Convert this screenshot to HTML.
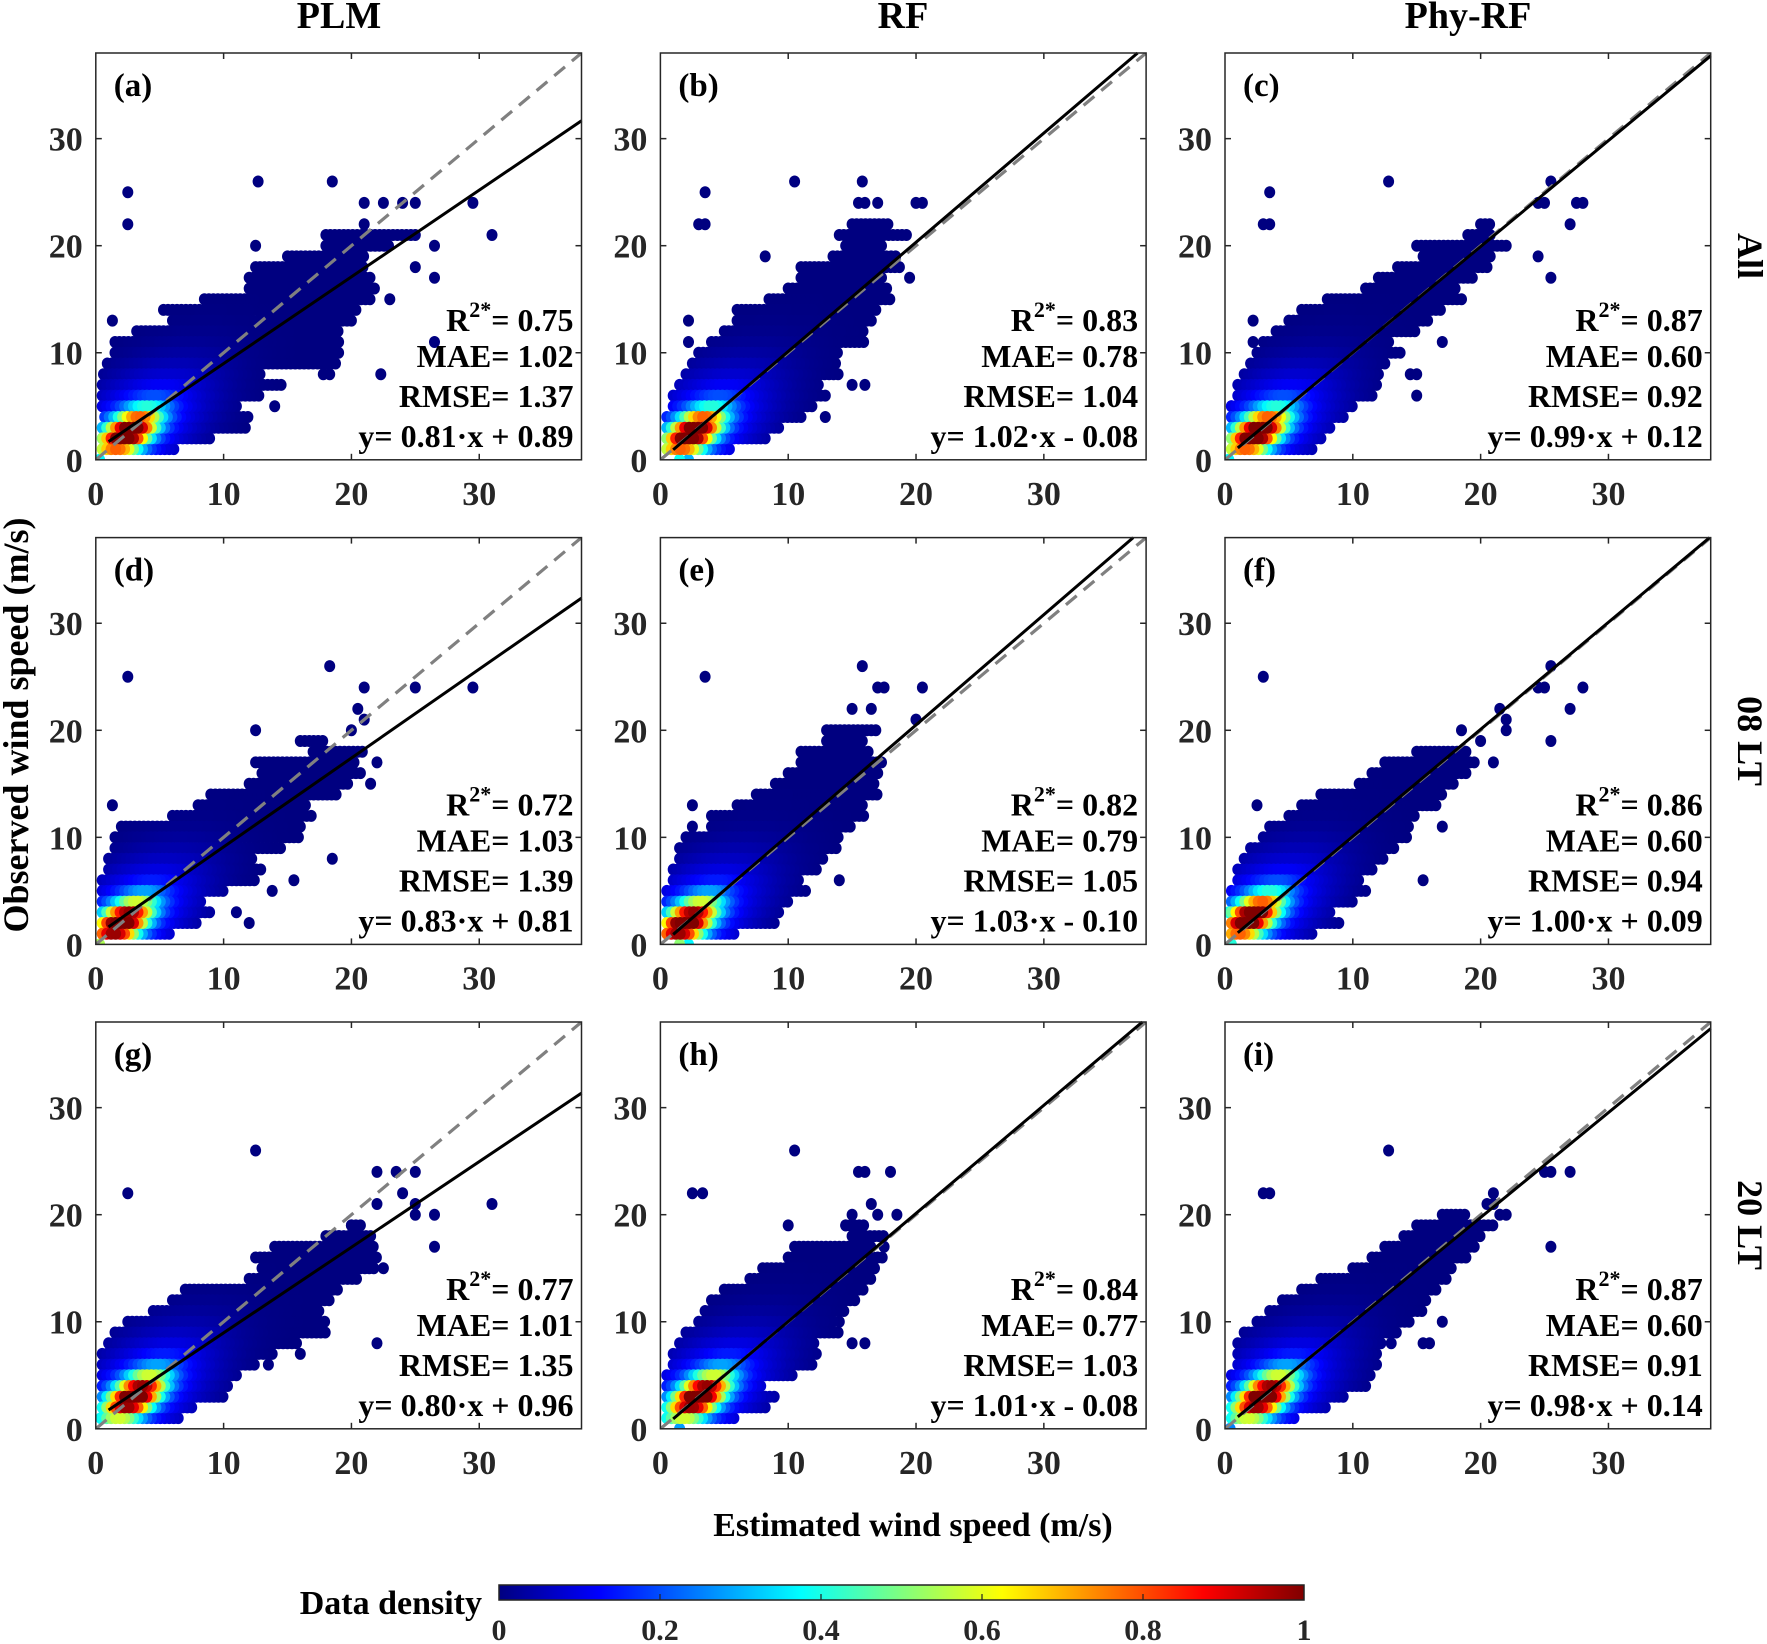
<!DOCTYPE html>
<html><head><meta charset="utf-8"><title>Wind speed density scatter</title>
<style>
html,body{margin:0;padding:0;background:#fff;}
svg{display:block;font-family:"Liberation Serif","Times New Roman",serif;font-weight:bold;}
</style></head>
<body>
<svg id="chart" width="1767" height="1644" viewBox="0 0 1767 1644" xmlns="http://www.w3.org/2000/svg">
<defs>
<linearGradient id="jetgrad" x1="0" x2="1" y1="0" y2="0">
<stop offset="0" stop-color="#000080"/><stop offset="0.125" stop-color="#0000ff"/>
<stop offset="0.375" stop-color="#00ffff"/><stop offset="0.625" stop-color="#ffff00"/>
<stop offset="0.875" stop-color="#ff0000"/><stop offset="1" stop-color="#800000"/>
</linearGradient>
</defs>
<g id="panels"></g>
<text x="339" y="28" font-size="38" text-anchor="middle">PLM</text>
<text x="903" y="28" font-size="38" text-anchor="middle">RF</text>
<text x="1468" y="28" font-size="38" text-anchor="middle">Phy-RF</text>
<text transform="translate(1738,256) rotate(90)" font-size="36" text-anchor="middle">All</text>
<text transform="translate(1738,741) rotate(90)" font-size="36" text-anchor="middle">08 LT</text>
<text transform="translate(1738,1225) rotate(90)" font-size="36" text-anchor="middle">20 LT</text>
<text transform="translate(28,725) rotate(-90)" font-size="36" text-anchor="middle">Observed wind speed (m/s)</text>
<text x="913" y="1536" font-size="34" text-anchor="middle">Estimated wind speed (m/s)</text>
<text x="482" y="1614" font-size="34" text-anchor="end">Data density</text>
<rect x="499" y="1585" width="805" height="15" fill="url(#jetgrad)" stroke="#222" stroke-width="1.5"/>
<g id="cbticks"></g>
</svg>
<script>
const NS="http://www.w3.org/2000/svg";
// ---- data ----
const panelLabels=["(a)","(b)","(c)","(d)","(e)","(f)","(g)","(h)","(i)"];
const slopes=[0.81,1.02,0.99,0.83,1.03,1.00,0.80,1.01,0.98];
const intercepts=[0.89,-0.08,0.12,0.81,-0.10,0.09,0.96,-0.08,0.14];
const r2Values=["0.75","0.83","0.87","0.72","0.82","0.86","0.77","0.84","0.87"];
const maeValues=["1.02","0.78","0.60","1.03","0.79","0.60","1.01","0.77","0.60"];
const rmseValues=["1.37","1.04","0.92","1.39","1.05","0.94","1.35","1.03","0.91"];
const axisTicks=[0,10,20,30];
const cbTicks=[0,0.2,0.4,0.6,0.8,1];
const cbTickLabels=["0","0.2","0.4","0.6","0.8","1"];
const coreX=[2.5,2.5,2.5,2,2,2,3,3,3];
const coreY=[2.5,2.5,2.5,2,2,2.5,3,3,3];
// row bands: observed y = index+1
const loA=[0.5,0.5,0.5,0.7,0.5,0.5,0.5,0.6,0.9,1.5,1.5,3.2,6,5.3,8.5,12,12,12.5,15,18,18];
const hiA=[6.3,9,12,12,11,13,14.5,13,19,19,19,19,20,20.5,21.5,22,21.5,21,21,23,25];
const loB=[0.5,0.5,0.5,0.5,1,1,1.5,2,2.5,3,4,5,6,6,8.5,10,11,11,13.5,14.5,14,15];
const hiB=[5.5,8.5,9.5,11,12,13,12.5,14,14,14,16,16,16.5,17,18,18,17.5,19,18.5,17.5,19.5,18];
const loC=[0.5,0.5,0.5,0.5,0.5,1,1,1.5,2,2.5,3,4,5,6,8,11,12,13.5,15.5,15,19,20];
const hiC=[7,7.5,8.5,9.5,10,11.5,12,12,12.5,14,13,15,16,17,18.5,18,19.5,20.5,21,22,21,21];
const loD=[0.5,0.5,0.5,0.5,0.5,0.5,1,1,1.5,1.5,2,6,8,9,12,13,12.5,17,16];
const hiD=[6,8,9,8.5,10,12.5,13,12.5,14.5,16,16,17,16.5,19,20,21,20.5,21,18];
const loE=[0.5,0.5,0.5,0.5,0.5,1,1,1.5,1.5,2,4,4,6,7.5,9,10,11,11,13,13];
const hiE=[6,9,9.5,10,11.5,11,12.5,13,14,14,15,16,16,17,17,17,17.5,16.5,16,17];
const loF=[0.5,0.5,0.5,0.5,0.5,1,1,1.5,2,3,3.5,5,6,7.5,10.5,11.5,12.5,15];
const hiF=[7,9,8.5,10,11,10.5,11.5,12.5,13.5,14.5,14.5,15,16.5,17,18,19,19.5,19];
const loG=[0.5,0.5,0.5,0.5,0.5,0.5,0.5,1,1.5,2.5,4.5,6,7,12,13,12.5,14,18,20];
const hiG=[6.5,7.5,10,10.5,11,12.5,14,16,18,18,17.5,18.5,19,20.5,22,22,22,21.5,21];
const loH=[0.5,0.5,0.5,0.5,0.5,1,1,1.5,2,3,3.5,4,5,7,8,10,10.5,15,14.5];
const hiH=[6,8.5,9,8,10.5,12,12.5,12,14,13.5,14.5,15.5,16,16.5,17,17.5,16.5,17.5,16];
const loI=[0.5,0.5,0.5,0.5,0.5,1,1,1,1.5,2.5,3.5,4.5,6,7.5,10,11.5,12.5,14,15,17];
const hiI=[5.5,8,9.5,11,11.5,12,12,12.5,13.5,14.5,15.5,16,16.5,17.5,18,19,19.5,20,21,19];
// isolated points
const outXA=[14,22.3,17.8,18.3,26.5,1.3,25,26.5,26.5,31,2.5,21,29.5,21,22.5,24,25,2.5,12.7,18.5,12.5,23,0.3,0.6];
const outYA=[5,8,8,8,11,13,18,17,20,21,22,22,24,24,24,24,24,25,26,26,20,15,0,2];
const outXB=[12.9,15,16,2.2,2.2,3,3.5,3.5,10.5,15.8,15.5,16,17,20,20.5,8.2,19.5,1.5,2.2];
const outYB=[4,7,7,13,11,22,22,25,26,26,24,24,24,24,24,19,17,0,0];
const outXC=[15,14.5,15,17,2.2,2.2,0.5,3,3.5,3.5,12.8,25.5,25,24.5,28,27.5,27,24.5,25.5,0.3];
const outYC=[6,8,8,11,13,11,5,22,22,25,26,26,24,24,24,24,22,19,17,0];
const outXD=[11,12,13.8,15.5,18.5,1.3,22,21.5,20,21,20.5,21,25,29.5,18.3,2.5,12.5,0.3];
const outYD=[3,2,5,6,8,13,17,15,20,21,22,24,24,24,26,25,20,0];
const outXE=[14,2.5,2.5,3.5,15.8,17,17.5,20.5,15,16.5,20,1.5,2.2];
const outYE=[6,13,11,25,26,24,24,24,22,22,21,0,0];
const outXF=[15.5,17,2.5,0.3,3,25.5,25,24.5,28,27,22,21.5,22,25.5,20,18.5,21,0.5];
const outYF=[6,11,13,3,25,26,24,24,24,22,21,22,20,19,19,20,17,0];
const outXG=[22,16,13.5,15.5,22.5,26.5,2.5,12.5,22,23.5,25,24,25,25,26.5,31,22,20,19,0.4];
const outYG=[8,7,6,13,15,17,22,26,24,24,24,22,21,20,20,21,21,19,18,1];
const outXH=[11.5,15,16,14,17.5,10,2.5,3.3,10.5,15.5,16,18,16.5,15,17,18.5,14.5,1.5];
const outYH=[8,8,8,10,17,19,22,22,26,24,24,24,21,20,20,20,19,0];
const outXI=[13,15.5,16,17,25.5,19.5,19.5,21.5,20.5,21,22,21,3,3.5,12.8,25,25.5,27,0.4];
const outYI=[8,8,8,10,17,18,19,20,21,21,20,22,22,22,26,24,24,24,0];

const bandLo=[loA,loB,loC,loD,loE,loF,loG,loH,loI];
const bandHi=[hiA,hiB,hiC,hiD,hiE,hiF,hiG,hiH,hiI];
const outX=[outXA,outXB,outXC,outXD,outXE,outXF,outXG,outXH,outXI];
const outY=[outYA,outYB,outYC,outYD,outYE,outYF,outYG,outYH,outYI];

// ---- layout ----
const colLeft=[95.8,660.4,1225];
const rowTop=[53,537.6,1022];
const PW=485.7, PH=406.8, MAXV=38;

function jet(t){
  const c=v=>Math.max(0,Math.min(1,v));
  const r=c(1.5-Math.abs(4*t-3)), g=c(1.5-Math.abs(4*t-2)), b=c(1.5-Math.abs(4*t-1));
  return "rgb("+Math.round(r*255)+","+Math.round(g*255)+","+Math.round(b*255)+")";
}
function mk(tag,attrs,parent){const e=document.createElementNS(NS,tag);for(const k in attrs)e.setAttribute(k,attrs[k]);parent.appendChild(e);return e;}

const root=document.getElementById("panels");
for(let p=0;p<9;p++){
  const L=colLeft[p%3], T=rowTop[Math.floor(p/3)];
  const sx=v=>L+v/MAXV*PW, sy=v=>T+PH-v/MAXV*PH;
  const g=mk("g",{},root);
  
  
  const clipId="clip"+p;
  const cp=mk("clipPath",{id:clipId},g); mk("rect",{x:L,y:T,width:PW,height:PH},cp);
  const pts=[];
  const lo=bandLo[p], hi=bandHi[p];
  for(let k=0;k<lo.length;k++){
    const yv=k+1;
    for(let xv=lo[k];xv<=hi[k]+1e-6;xv+=0.35) pts.push([xv,yv]);
  }
  for(let i=0;i<outX[p].length;i++) pts.push([outX[p][i],outY[p][i]]);
  const cx=coreX[p], cy=coreY[p];
  const dens=pts.map(([x,y])=>{
    const u=((x-cx)+(y-cy))/Math.SQRT2, v=((y-cy)-(x-cx))/Math.SQRT2;
    const core=Math.exp(-(u*u/(2*1.9*1.9)+v*v/(2*0.95*0.95)));
    const halo=Math.exp(-(u*u/(2*5*5)+v*v/(2*2.6*2.6)));
    return Math.min(1,0.98*core+0.2*halo);
  });
  const order=pts.map((_,i)=>i).sort((a,b)=>dens[a]-dens[b]);
  const sg=mk("g",{"clip-path":"url(#"+clipId+")"},g);
  
  
  for(const i of order){
    const c=mk("ellipse",{cx:sx(pts[i][0]).toFixed(1),cy:sy(pts[i][1]).toFixed(1),rx:5.5,ry:6,fill:jet(dens[i])},sg);
    
    
  }
  const d1=mk("line",{x1:sx(0),y1:sy(0),x2:sx(MAXV),y2:sy(MAXV),stroke:"#808080","stroke-width":3.2,"stroke-dasharray":"14,9","clip-path":"url(#"+clipId+")"},g);
  
  
  const m=slopes[p], b=intercepts[p];
  let x2=MAXV; if(m*x2+b>MAXV) x2=(MAXV-b)/m;
  const fl=mk("line",{x1:sx(1),y1:sy(m*1+b),x2:sx(x2),y2:sy(m*x2+b),stroke:"#000","stroke-width":3},g);
  
  
  const fr=mk("rect",{x:L,y:T,width:PW,height:PH,fill:"none",stroke:"#262626","stroke-width":1.5},g);
  
  
  for(const t of axisTicks){
    if(t>0){
      mk("line",{x1:sx(t),y1:T+PH,x2:sx(t),y2:T+PH-6,stroke:"#262626","stroke-width":1.5},g);
      mk("line",{x1:sx(t),y1:T,x2:sx(t),y2:T+6,stroke:"#262626","stroke-width":1.5},g);
      mk("line",{x1:L,y1:sy(t),x2:L+6,y2:sy(t),stroke:"#262626","stroke-width":1.5},g);
      mk("line",{x1:L+PW,y1:sy(t),x2:L+PW-6,y2:sy(t),stroke:"#262626","stroke-width":1.5},g);
    }
    const xt=mk("text",{x:sx(t),y:T+PH+45,"font-size":34,"text-anchor":"middle",fill:"#262626"},g);
    xt.textContent=t;
    
    
    const yt=mk("text",{x:L-13,y:sy(t)+12,"font-size":34,"text-anchor":"end",fill:"#262626"},g);
    yt.textContent=t;
    
    
  }
  const pl=mk("text",{x:L+18,y:T+43,"font-size":33},g);
  pl.textContent=panelLabels[p];
  
  
  const R=L+PW-8;
  const s1=mk("text",{x:R,y:T+278,"font-size":32,"text-anchor":"end"},g);
  s1.innerHTML='R<tspan font-size="22" dy="-14">2*</tspan><tspan dy="14">= '+r2Values[p]+'</tspan>';
  
  
  const s2=mk("text",{x:R,y:T+314,"font-size":32,"text-anchor":"end"},g);
  s2.textContent="MAE= "+maeValues[p];
  
  
  const s3=mk("text",{x:R,y:T+354,"font-size":32,"text-anchor":"end"},g);
  s3.textContent="RMSE= "+rmseValues[p];
  
  
  const s4=mk("text",{x:R,y:T+394,"font-size":32,"text-anchor":"end"},g);
  s4.textContent="y= "+m.toFixed(2)+"\u00b7x "+(b<0?"- ":"+ ")+Math.abs(b).toFixed(2);
  
  
}
const cbg=document.getElementById("cbticks");
for(let i=0;i<cbTicks.length;i++){
  const x=499+cbTicks[i]*805;
  if(i>0&&i<cbTicks.length-1){mk("line",{x1:x,y1:1600,x2:x,y2:1594,stroke:"#222","stroke-width":1.2},cbg);}
  const t=mk("text",{x:x,y:1640,"font-size":30,"text-anchor":"middle",fill:"#262626"},cbg);
  t.textContent=cbTickLabels[i];
  
  
}
</script>
</body></html>
